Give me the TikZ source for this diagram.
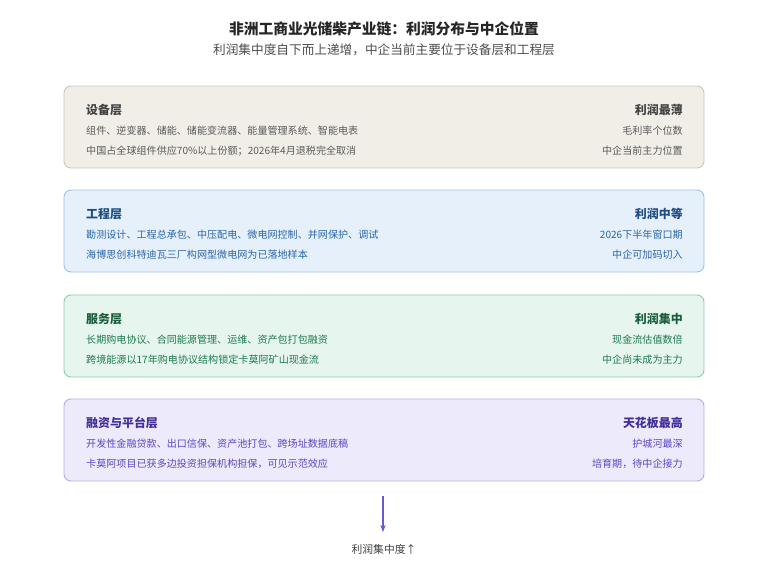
\documentclass[tikz,border=0pt]{standalone}
\usepackage{fontspec}
\setmainfont{Noto Sans CJK SC}
\usepackage{xcolor}
\usetikzlibrary{positioning, arrows.meta}
\definecolor{eqfill}{HTML}{F1EEE8}\definecolor{eqline}{HTML}{CCC6BC}\definecolor{eqtext}{HTML}{5A5A5A}\definecolor{eqhead}{HTML}{444444}
\definecolor{enfill}{HTML}{E6F0FB}\definecolor{enline}{HTML}{9DC0E8}\definecolor{entext}{HTML}{2A66A8}\definecolor{enhead}{HTML}{1F4E85}
\definecolor{svfill}{HTML}{E6F5EE}\definecolor{svline}{HTML}{8ECBAE}\definecolor{svtext}{HTML}{1E7A50}\definecolor{svhead}{HTML}{1B5E3E}
\definecolor{fnfill}{HTML}{EDEAFB}\definecolor{fnline}{HTML}{B5ABEA}\definecolor{fntext}{HTML}{5A48C8}\definecolor{fnhead}{HTML}{3E2F99}
\definecolor{arrowcol}{HTML}{6A5ACD}
\tikzstyle{layer} = [rectangle, rounded corners=6pt, minimum width=19.2cm, minimum height=2.46cm, line width=0.8pt]
\tikzstyle{head} = [inner sep=0pt, font=\fontsize{10.2}{12}\selectfont\bfseries]
\tikzstyle{line} = [inner sep=0pt, font=\fontsize{8.6}{10}\selectfont]
\tikzstyle{arrow} = [line width=1pt, -{Stealth[length=6pt]}, arrowcol]

\begin{document}
\begin{tikzpicture}
	\useasboundingbox (0,0) rectangle (23.04,-17.28);
	
	% Title
	\node (title) [head, font=\fontsize{12.6}{14}\selectfont\bfseries, text=black!85] at (11.52,-0.87) {非洲工商业光储柴产业链：利润分布与中企位置};
	\node (subtitle) [line, font=\fontsize{10.8}{12}\selectfont, text=black!70] at (11.52,-1.5) {利润集中度自下而上递增，中企当前主要位于设备层和工程层};
	
	% Layers
	\node (equip) [layer, fill=eqfill, draw=eqline] at (11.52,-3.81) {};
	\node (eng) [layer, fill=enfill, draw=enline] at (11.52,-6.93) {};
	\node (serv) [layer, fill=svfill, draw=svline] at (11.52,-10.08) {};
	\node (fin) [layer, fill=fnfill, draw=fnline] at (11.52,-13.2) {};
	
	% Equipment layer text
	\node (equipH) [head, anchor=west, text=eqhead] at (2.58,-3.3) {设备层};
	\node (equipA) [line, anchor=west, text=eqtext] at (2.58,-3.93) {组件、逆变器、储能、储能变流器、能量管理系统、智能电表};
	\node (equipB) [line, anchor=west, text=eqtext] at (2.58,-4.53) {中国占全球组件供应70\%以上份额；2026年4月退税完全取消};
	\node (equipR) [head, anchor=east, text=eqhead] at (20.49,-3.3) {利润最薄};
	\node (equipS) [line, anchor=east, text=eqtext] at (20.49,-3.93) {毛利率个位数};
	\node (equipT) [line, anchor=east, text=eqtext] at (20.49,-4.53) {中企当前主力位置};
	
	% Engineering layer text
	\node (engH) [head, anchor=west, text=enhead] at (2.58,-6.42) {工程层};
	\node (engA) [line, anchor=west, text=entext] at (2.58,-7.05) {勘测设计、工程总承包、中压配电、微电网控制、并网保护、调试};
	\node (engB) [line, anchor=west, text=entext] at (2.58,-7.65) {海博思创科特迪瓦三厂构网型微电网为已落地样本};
	\node (engR) [head, anchor=east, text=enhead] at (20.49,-6.42) {利润中等};
	\node (engS) [line, anchor=east, text=entext] at (20.49,-7.05) {2026下半年窗口期};
	\node (engT) [line, anchor=east, text=entext] at (20.49,-7.65) {中企可加码切入};
	
	% Service layer text
	\node (servH) [head, anchor=west, text=svhead] at (2.58,-9.57) {服务层};
	\node (servA) [line, anchor=west, text=svtext] at (2.58,-10.2) {长期购电协议、合同能源管理、运维、资产包打包融资};
	\node (servB) [line, anchor=west, text=svtext] at (2.58,-10.8) {跨境能源以17年购电协议结构锁定卡莫阿矿山现金流};
	\node (servR) [head, anchor=east, text=svhead] at (20.49,-9.57) {利润集中};
	\node (servS) [line, anchor=east, text=svtext] at (20.49,-10.2) {现金流估值数倍};
	\node (servT) [line, anchor=east, text=svtext] at (20.49,-10.8) {中企尚未成为主力};
	
	% Finance layer text
	\node (finH) [head, anchor=west, text=fnhead] at (2.58,-12.69) {融资与平台层};
	\node (finA) [line, anchor=west, text=fntext] at (2.58,-13.32) {开发性金融贷款、出口信保、资产池打包、跨场址数据底稿};
	\node (finB) [line, anchor=west, text=fntext] at (2.58,-13.92) {卡莫阿项目已获多边投资担保机构担保，可见示范效应};
	\node (finR) [head, anchor=east, text=fnhead] at (20.49,-12.69) {天花板最高};
	\node (finS) [line, anchor=east, text=fntext] at (20.49,-13.32) {护城河最深};
	\node (finT) [line, anchor=east, text=fntext] at (20.49,-13.92) {培育期，待中企接力};
	
	% Arrow
	\coordinate (arrowTop) at (11.49,-14.88);
	\node (conc) [line, font=\fontsize{9.2}{11}\selectfont, text=black!75] at (11.52,-16.47) {利润集中度↑};
	\draw [arrow] (arrowTop) -- ++(0,-1.08);
	
\end{tikzpicture}
\end{document}
